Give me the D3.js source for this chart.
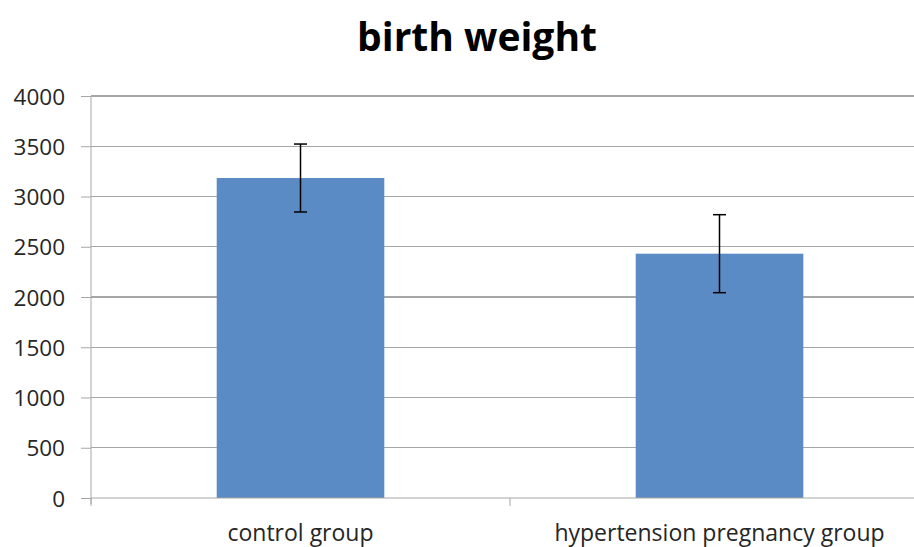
<!DOCTYPE html>
<html><head><meta charset="utf-8">
<script src="https://cdn.jsdelivr.net/npm/d3@7"></script>
<style>body{margin:0;background:#fff}svg{display:block}</style>
</head><body>
<script>
const categories = ["control group", "hypertension pregnancy group"];
const means = [3184, 2431];
const errors = [338, 388];
const yTicks = [0, 500, 1000, 1500, 2000, 2500, 3000, 3500, 4000];
const title = "birth weight";

(function () {
const W = 914, H = 547;
const svg = d3.select("body").append("svg").attr("width", W).attr("height", H);
const pL = 91, pR = 929, pT = 96, pB = 498;
const x = d3.scaleBand().domain(categories).range([pL, pR]).paddingInner(0).paddingOuter(0);
const y = d3.scaleLinear().domain([0, 4000]).range([pB, pT]);
const font = "'Open Sans', Calibri, sans-serif";

// gridlines
svg.append("g").selectAll("line").data(yTicks.filter(d => d > 0)).join("line")
  .attr("x1", pL).attr("x2", pR).attr("y1", d => y(d)).attr("y2", d => y(d))
  .attr("stroke", "#a6a6a6").attr("stroke-width", 1.2).attr("shape-rendering", "crispEdges");

// y axis
const yAxis = svg.append("g").attr("transform", `translate(${pL},0)`)
  .call(d3.axisLeft(y).tickValues(yTicks).tickSize(10).tickPadding(16).tickFormat(d3.format("d")));
yAxis.select(".domain").attr("stroke", "#a6a6a6").attr("d", `M0,${pB+6}V${pT}`);
yAxis.selectAll(".tick line").attr("stroke", "#a6a6a6");
yAxis.selectAll("text").attr("font-family", font).attr("font-size", 22.5).attr("fill", "#262626").attr("dy", "0.36em");

// bars
const bw = x.bandwidth() * 0.4;
svg.append("g").selectAll("rect").data(categories).join("rect")
  .attr("x", (d) => x(d) + x.bandwidth()/2 - bw/2)
  .attr("width", bw)
  .attr("y", (d, i) => y(means[i]))
  .attr("height", (d, i) => y(0) - y(means[i]))
  .attr("fill", "#5b8bc5");

// x axis
const xAxis = svg.append("g").attr("transform", `translate(0,${pB})`);
xAxis.append("line").attr("x1", pL).attr("x2", pR).attr("y1", 0).attr("y2", 0).attr("stroke", "#a6a6a6").attr("stroke-width", 1.2);
xAxis.selectAll("line.tk").data(d3.range(categories.length + 1)).join("line").attr("class", "tk")
  .attr("x1", i => pL + i * x.bandwidth()).attr("x2", i => pL + i * x.bandwidth())
  .attr("y1", 0).attr("y2", 8).attr("stroke", "#a6a6a6");
xAxis.selectAll("text").data(categories).join("text")
  .attr("x", d => x(d) + x.bandwidth()/2).attr("y", 43)
  .attr("text-anchor", "middle").attr("font-family", font).attr("font-size", 23).attr("fill", "#262626")
  .text(d => d);

// error bars
const eb = svg.append("g").attr("stroke", "#000").attr("stroke-width", 1.5);
categories.forEach((c, i) => {
  const cx = x(c) + x.bandwidth()/2;
  eb.append("line").attr("x1", cx).attr("x2", cx).attr("y1", y(means[i] + errors[i])).attr("y2", y(means[i] - errors[i]));
  [means[i] + errors[i], means[i] - errors[i]].forEach(v => {
    eb.append("line").attr("x1", cx - 6.5).attr("x2", cx + 6.5).attr("y1", y(v)).attr("y2", y(v));
  });
});

// title
svg.append("text").attr("x", 477).attr("y", 51).attr("text-anchor", "middle")
  .attr("font-family", font).attr("font-weight", "bold").attr("font-size", 39).attr("fill", "#000")
  .text(title);
})();
</script>
</body></html>
